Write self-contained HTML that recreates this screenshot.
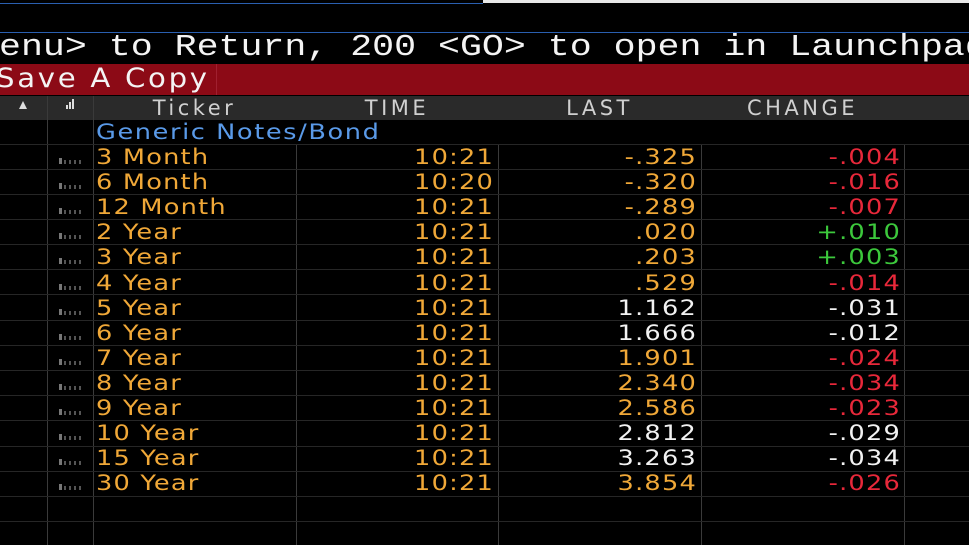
<!DOCTYPE html>
<html><head><meta charset="utf-8"><style>
html,body{margin:0;width:969px;height:545px;background:#000;overflow:hidden;position:relative;font-family:"DejaVu Sans","Liberation Sans",sans-serif}
.a{position:absolute}
.t{position:absolute;font-size:21px;letter-spacing:1px;line-height:25px;white-space:nowrap;transform:scaleX(1.22);transform-origin:left center}
.rt{transform-origin:right center;text-align:right}
.y{color:#f0a838}.w{color:#f2f2f2}.r{color:#e8283a}.g{color:#3cc83c}
.vl{position:absolute;top:96px;bottom:0;width:1px;background:#3a3a3a}
.hl{position:absolute;left:0;width:969px;height:1px;background:#262626}
.ic{position:absolute;left:59px;width:22px;height:4px;background:repeating-linear-gradient(90deg,#555 0 2px,transparent 2px 5px)}
.ic:before{content:"";position:absolute;left:0;top:-2px;width:3px;height:6px;background:#777}
.h{position:absolute;top:96px;height:24px;line-height:24px;color:#d0d0d0;font-size:21px;letter-spacing:3.5px;text-align:center}
</style></head><body>
<div class="a" style="left:0;top:3px;width:483px;height:1px;background:#2a5fb0"></div>
<div class="a" style="left:483px;top:0;width:486px;height:3px;background:#e8e8e8"></div>
<div class="a" style="left:0;top:32px;width:969px;height:1px;background:#2a5fb0"></div>
<div class="a" style="left:-1px;top:31px;font-family:'Liberation Mono',monospace;font-size:31px;letter-spacing:0px;color:#f4f4f4;white-space:nowrap;line-height:34px;transform:scaleX(1.18);transform-origin:left center">enu&gt; to Return, 200 &lt;GO&gt; to open in Launchpad</div>
<div class="a" style="left:0;top:64px;width:969px;height:31px;background:#8c0a16"></div>
<div class="a" style="left:216px;top:64px;width:1px;height:31px;background:#a02030"></div>
<div class="a" style="left:-4px;top:62px;font-size:27px;letter-spacing:2.5px;color:#f4f4f4;white-space:nowrap;line-height:34px;transform:scaleX(1.08);transform-origin:left center">Save A Copy</div>
<div class="a" style="left:0;top:96px;width:969px;height:24px;background:#2a2a2a"></div>
<div class="a" style="left:19px;top:101px;width:0;height:0;border-left:4px solid transparent;border-right:4px solid transparent;border-bottom:8px solid #ddd"></div>
<div class="a" style="left:66px;top:105px;width:2px;height:4px;background:#ddd"></div>
<div class="a" style="left:69px;top:102px;width:2px;height:7px;background:#ddd"></div>
<div class="a" style="left:72px;top:99px;width:2px;height:10px;background:#ddd"></div>
<div class="h" style="left:93px;width:203px">Ticker</div>
<div class="h" style="left:296px;width:202px">TIME</div>
<div class="h" style="left:498px;width:203px">LAST</div>
<div class="h" style="left:701px;width:203px">CHANGE</div>
<div class="vl" style="left:47px"></div><div class="vl" style="left:93px"></div><div class="vl" style="left:296px;top:144px"></div><div class="vl" style="left:498px;top:144px"></div><div class="vl" style="left:701px;top:144px"></div><div class="vl" style="left:904px;top:144px"></div>
<div class="hl" style="top:144px"></div><div class="hl" style="top:169px"></div><div class="hl" style="top:194px"></div><div class="hl" style="top:219px"></div><div class="hl" style="top:244px"></div><div class="hl" style="top:269px"></div><div class="hl" style="top:294px"></div><div class="hl" style="top:320px"></div><div class="hl" style="top:345px"></div><div class="hl" style="top:370px"></div><div class="hl" style="top:395px"></div><div class="hl" style="top:420px"></div><div class="hl" style="top:446px"></div><div class="hl" style="top:471px"></div><div class="hl" style="top:496px"></div><div class="hl" style="top:521px"></div>
<div class="t" style="left:96px;top:120px;color:#5a9ae8;letter-spacing:1.3px">Generic Notes/Bond</div>
<div id="rows"></div>
<script>
var d=[["3 Month","10:21","-.325","y","-.004","r"],["6 Month","10:20","-.320","y","-.016","r"],["12 Month","10:21","-.289","y","-.007","r"],["2 Year","10:21",".020","y","+.010","g"],["3 Year","10:21",".203","y","+.003","g"],["4 Year","10:21",".529","y","-.014","r"],["5 Year","10:21","1.162","w","-.031","w"],["6 Year","10:21","1.666","w","-.012","w"],["7 Year","10:21","1.901","y","-.024","r"],["8 Year","10:21","2.340","y","-.034","r"],["9 Year","10:21","2.586","y","-.023","r"],["10 Year","10:21","2.812","w","-.029","w"],["15 Year","10:21","3.263","w","-.034","w"],["30 Year","10:21","3.854","y","-.026","r"]];
var h="";d.forEach(function(r,i){var t=145+i*25.1;
h+='<div class="ic" style="top:'+(t+15)+'px"></div>';
h+='<div class="t y" style="left:96px;top:'+t+'px">'+r[0]+'</div>';
h+='<div class="t y rt" style="left:296px;width:198px;top:'+t+'px">'+r[1]+'</div>';
h+='<div class="t rt '+r[3]+'" style="left:498px;width:199px;top:'+t+'px">'+r[2]+'</div>';
h+='<div class="t rt '+r[5]+'" style="left:701px;width:200px;top:'+t+'px">'+r[4]+'</div>';});
document.getElementById("rows").innerHTML=h;
</script>
</body></html>
